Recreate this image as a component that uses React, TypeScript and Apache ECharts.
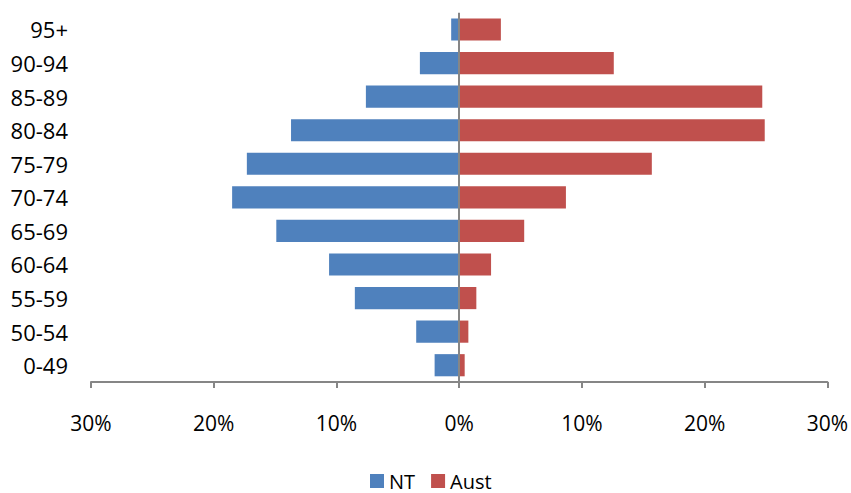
import React, { useEffect, useRef } from "react";
import * as echarts from "echarts";

const categories = ["0-49", "50-54", "55-59", "60-64", "65-69", "70-74", "75-79", "80-84", "85-89", "90-94", "95+"];
const ntValues = [2.0, 3.5, 8.5, 10.6, 14.9, 18.5, 17.3, 13.7, 7.6, 3.2, 0.65];
const austValues = [0.45, 0.75, 1.4, 2.6, 5.3, 8.7, 15.7, 24.9, 24.7, 12.6, 3.4];
const seriesNames = ["NT", "Aust"];

const FONT = "'Open Sans', 'Noto Sans', sans-serif";

export default function App() {
  const ref = useRef<HTMLDivElement>(null);
  useEffect(() => {
    document.body.style.margin = "0";
    const chart = echarts.init(ref.current!, undefined, { renderer: "svg" });
    chart.setOption({
      animation: false,
      backgroundColor: "#ffffff",
      textStyle: { fontFamily: FONT },
      grid: { left: 91, right: 22.5, top: 12.7, bottom: 111, containLabel: false },
      legend: {
        data: seriesNames,
        left: 370,
        top: 471,
        padding: 0,
        itemWidth: 14,
        itemHeight: 14,
        itemGap: 16,
        icon: "rect",
        textStyle: { fontFamily: FONT, fontSize: 20, color: "#000000" },
      },
      xAxis: {
        type: "value",
        min: -30,
        max: 30,
        interval: 10,
        axisLine: { show: true, onZero: false, lineStyle: { color: "#868686", width: 2 } },
        axisTick: { show: true, length: 6, lineStyle: { color: "#868686", width: 2 } },
        splitLine: { show: false },
        axisLabel: {
          margin: 30,
          fontFamily: FONT,
          fontSize: 21,
          color: "#000000",
          formatter: (v: number) => Math.abs(v) + "%",
        },
      },
      yAxis: {
        type: "category",
        data: categories,
        axisLine: { show: false },
        axisTick: { show: false },
        axisLabel: { margin: 23, fontFamily: FONT, fontSize: 22, color: "#000000" },
      },
      series: [
        {
          name: seriesNames[0],
          type: "bar",
          stack: "total",
          barWidth: "66%",
          itemStyle: { color: "#4F81BD" },
          data: ntValues.map((v) => -v),
          markLine: {
            silent: true,
            symbol: "none",
            label: { show: false },
            lineStyle: { color: "#868686", width: 2, type: "solid" },
            data: [{ xAxis: 0 }],
          },
        },
        {
          name: seriesNames[1],
          type: "bar",
          stack: "total",
          barWidth: "66%",
          itemStyle: { color: "#C0504D" },
          data: austValues,
        },
      ],
    });
    return () => chart.dispose();
  }, []);
  return (
    <div
      ref={ref}
      style={{ position: "absolute", left: 0, top: 0, width: 851, height: 493 }}
    />
  );
}
